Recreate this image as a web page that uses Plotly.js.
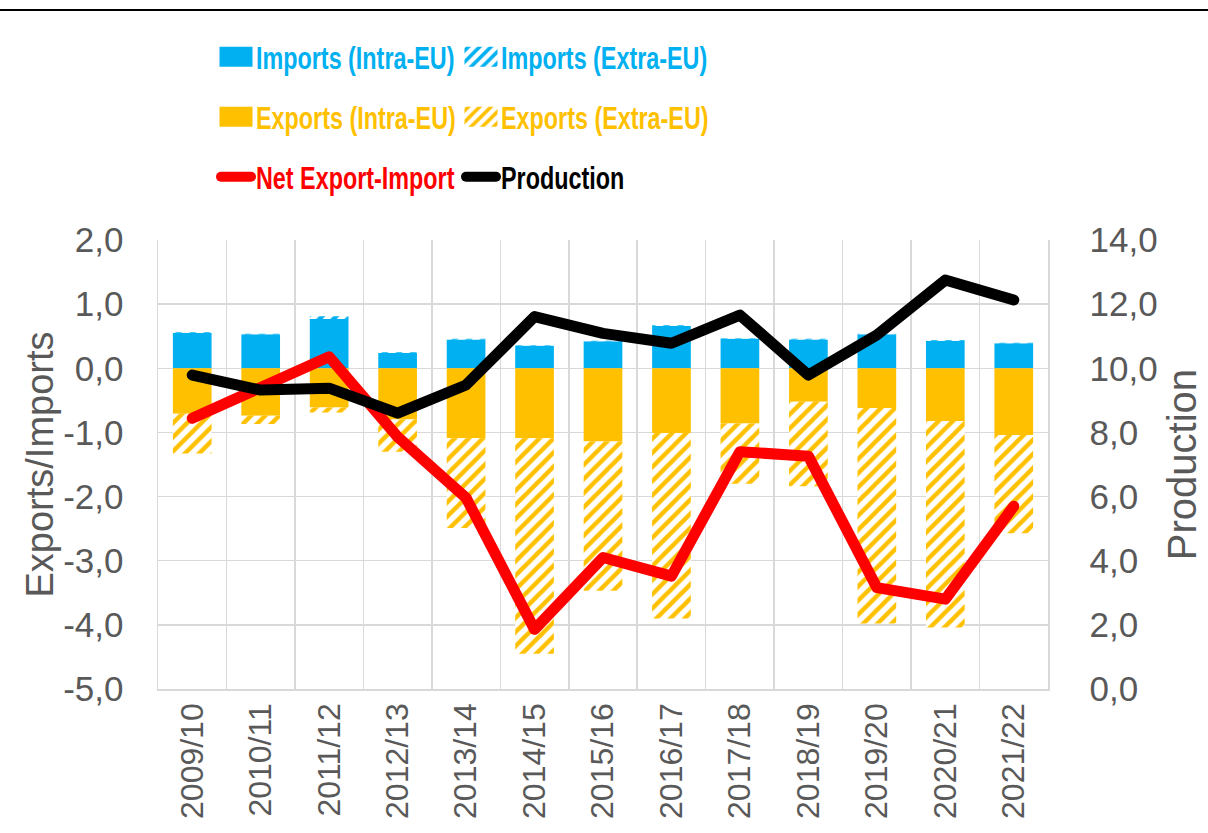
<!DOCTYPE html>
<html>
<head>
<meta charset="utf-8">
<script src="https://cdn.plot.ly/plotly-3.0.1.min.js"></script>
<style>
  html, body { margin: 0; padding: 0; background: #fff; }
  #chart { width: 1208px; height: 833px; }
  path.js-line { stroke-linecap: round !important; stroke-linejoin: round !important; }
</style>
</head>
<body>
<div id="chart"></div>
<script>
const categories = ['2009/10','2010/11','2011/12','2012/13','2013/14','2014/15','2015/16','2016/17','2017/18','2018/19','2019/20','2020/21','2021/22'];
const importsIntra = [0.55, 0.53, 0.77, 0.24, 0.45, 0.35, 0.42, 0.66, 0.46, 0.45, 0.53, 0.43, 0.39];
const importsExtra = [0.01, 0.01, 0.04, 0.01, 0.01, 0.01, 0.01, 0.01, 0.01, 0.01, 0.01, 0.01, 0.01];
const exportsIntra = [-0.71, -0.74, -0.61, -0.80, -1.09, -1.09, -1.14, -1.01, -0.86, -0.52, -0.62, -0.82, -1.04];
const exportsExtra = [-0.62, -0.13, -0.08, -0.50, -1.40, -3.36, -2.33, -2.89, -0.94, -1.32, -3.36, -3.22, -1.53];
const netExportImport = [-0.78, -0.30, 0.18, -1.07, -2.02, -4.07, -2.95, -3.24, -1.30, -1.37, -3.42, -3.60, -2.15];
const production = [9.79, 9.32, 9.38, 8.60, 9.48, 11.61, 11.09, 10.78, 11.66, 9.79, 11.04, 12.75, 12.13];

const leftTickVals = [2, 1, 0, -1, -2, -3, -4, -5];
const leftTickText = ['2,0', '1,0', '0,0', '-1,0', '-2,0', '-3,0', '-4,0', '-5,0'];
const rightTickVals = [0, 2, 4, 6, 8, 10, 12, 14];
const rightTickText = ['0,0', '2,0', '4,0', '6,0', '8,0', '10,0', '12,0', '14,0'];

const BLUE = '#00B0F0', YELLOW = '#FFC000', RED = '#FF0000', BLACK = '#000000', GREY = '#595959', GRID = '#D9D9D9';
const FONT = 'Liberation Sans, Arial, sans-serif';
const tickFont = { family: FONT, size: 35, color: GREY };
const legendFont = { family: FONT, size: 32, weight: 'bold' };
const LEGEND_SQUEEZE = 0.73;

function col(c, t) { return '<span style="color:' + c + '">' + t + '</span>'; }

const data = [
  { type: 'bar', x: categories, y: importsIntra, name: col(BLUE, 'Imports (Intra-EU)'), legend: 'legend',
    marker: { color: BLUE, line: { width: 0 } } },
  { type: 'bar', x: categories, y: importsExtra, name: col(BLUE, 'Imports (Extra-EU)'), legend: 'legend2',
    marker: { color: BLUE, line: { width: 0 }, pattern: { shape: '/', fgcolor: BLUE, bgcolor: '#FFFFFF', size: 10, solidity: 0.45 } } },
  { type: 'bar', x: categories, y: exportsIntra, name: col(YELLOW, 'Exports (Intra-EU)'), legend: 'legend3',
    marker: { color: YELLOW, line: { width: 0 } } },
  { type: 'bar', x: categories, y: exportsExtra, name: col(YELLOW, 'Exports (Extra-EU)'), legend: 'legend4',
    marker: { color: YELLOW, line: { width: 0 }, pattern: { shape: '/', fgcolor: YELLOW, bgcolor: '#FFFFFF', size: 10, solidity: 0.45 } } },
  { type: 'scatter', mode: 'lines', x: categories, y: netExportImport, name: col(RED, 'Net Export-Import'), legend: 'legend5',
    line: { color: RED, width: 11 } },
  { type: 'scatter', mode: 'lines', x: categories, y: production, name: col(BLACK, 'Production'), legend: 'legend6',
    yaxis: 'y2', line: { color: BLACK, width: 11 } }
];

function legendAt(xPx, yPx) {
  return { orientation: 'h', xref: 'container', yref: 'container', x: xPx / 1208, y: 1 - yPx / 833,
           xanchor: 'left', yanchor: 'middle', font: legendFont, bgcolor: 'rgba(0,0,0,0)', itemwidth: 30,
           borderwidth: 0 };
}

const layout = {
  width: 1208, height: 833,
  margin: { l: 158, r: 160, t: 240, b: 144 },
  paper_bgcolor: '#FFFFFF', plot_bgcolor: '#FFFFFF',
  separators: ', ',
  barmode: 'relative',
  bargap: 0.435,
  showlegend: true,
  legend: legendAt(216, 57),
  legend2: legendAt(461, 57),
  legend3: legendAt(216, 117),
  legend4: legendAt(461, 117),
  legend5: legendAt(216, 177),
  legend6: legendAt(461, 177),
  xaxis: {
    type: 'category', tickson: 'boundaries', showgrid: true, gridcolor: GRID, gridwidth: 1.5,
    showline: true, linecolor: GRID, linewidth: 1.5,
    ticks: 'outside', ticklen: 33, tickcolor: 'rgba(0,0,0,0)',
    tickangle: -90, tickfont: { family: FONT, size: 32, color: GREY },
    automargin: false, fixedrange: true
  },
  yaxis: {
    range: [-5, 2], tickmode: 'array', tickvals: leftTickVals, ticktext: leftTickText,
    showgrid: true, gridcolor: GRID, gridwidth: 1.5,
    zeroline: false, showline: true, linecolor: GRID, linewidth: 1.5,
    ticks: 'outside', ticklen: 26, tickcolor: 'rgba(0,0,0,0)',
    tickfont: tickFont,
    title: { text: 'Exports/Imports', font: { family: FONT, size: 38, color: GREY } },
    automargin: false, fixedrange: true
  },
  yaxis2: {
    range: [0, 14], tickmode: 'array', tickvals: rightTickVals, ticktext: rightTickText,
    overlaying: 'y', side: 'right', showgrid: false,
    zeroline: false, showline: true, linecolor: GRID, linewidth: 1.5,
    ticks: 'outside', ticklen: 33, tickcolor: 'rgba(0,0,0,0)',
    tickfont: tickFont,
    title: { text: 'Production', font: { family: FONT, size: 40, color: GREY } },
    automargin: false, fixedrange: true
  },
  shapes: [
    { type: 'line', xref: 'paper', yref: 'paper', x0: -0.2, x1: 1.2, y0: (689 - 10) / 449, y1: (689 - 10) / 449,
      line: { color: BLACK, width: 2 } }
  ]
};

Plotly.newPlot('chart', data, layout, { displayModeBar: false, staticPlot: true }).then(function (gd) {
  // wider legend swatches, as in the reference
  gd.querySelectorAll('g.legendpoints path').forEach(function (p) {
    const d = p.getAttribute('d') || '';
    if (d.indexOf('M6,6H-6V-6H6Z') === 0) p.setAttribute('d', 'M16.5,10H-16.5V-10H16.5Z');
  });
  // condensed look of the legend labels (each legend uses its own class: legendtext, legend2text, ...)
  gd.querySelectorAll('text[class^="legend"]').forEach(function (t) {
    if (!/legend\d*text/.test(t.getAttribute('class'))) return;
    const x = parseFloat(t.getAttribute('x')) || 0;
    t.setAttribute('transform', 'translate(' + (x * (1 - LEGEND_SQUEEZE)) + ',0) scale(' + LEGEND_SQUEEZE + ',1)');
  });
});
</script>
</body>
</html>
